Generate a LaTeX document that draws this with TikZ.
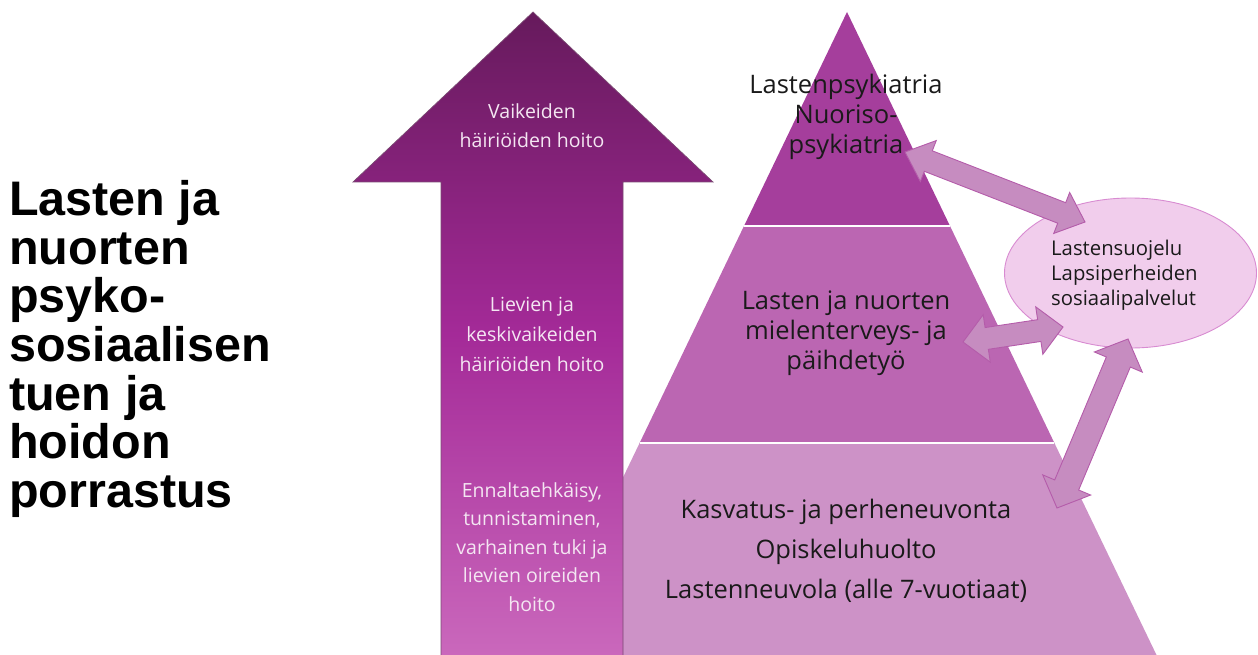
\documentclass[tikz,border=0pt]{standalone}
\usepackage{fontspec}
\setmainfont{Open Sans}
\newfontfamily\titlefont{Liberation Sans}
\usetikzlibrary{calc}
\definecolor{arrtop}{HTML}{661A5C}
\definecolor{arrmid}{HTML}{A42A98}
\definecolor{arrbot}{HTML}{CA68BC}
\definecolor{arrline}{HTML}{7B4A73}
\definecolor{tiertop}{HTML}{A53E9C}
\definecolor{tiermid}{HTML}{BB66B2}
\definecolor{tierbot}{HTML}{CD92C7}
\definecolor{lighttxt}{HTML}{F4E6F2}
\definecolor{ellfill}{HTML}{F1CDEC}
\definecolor{ellline}{HTML}{D88BD1}
\definecolor{dblfill}{HTML}{C68CC0}
\definecolor{dblline}{HTML}{B45CAA}
\definecolor{darktxt}{HTML}{1A1A1A}
\tikzset{
  arrtxt/.style={text=lighttxt, align=center, inner sep=0pt, font=\fontsize{19.5}{29}\selectfont},
  pyrtxt/.style={text=darktxt, align=center, inner sep=0pt, font=\fontsize{25.5}{30}\selectfont},
  dblarr/.style={draw=dblline, fill=dblfill, line width=0.9pt, line join=miter},
}
% #1 name, #2 end A, #3 end B, #4 head length, #5 head half width, #6 shaft half width
\newcommand{\mydblarrow}[6]{%
  \coordinate (#1p) at ($(#2)!#4!(#3)$);
  \coordinate (#1q) at ($(#3)!#4!(#2)$);
  \draw[dblarr] (#2) -- ($(#1p)!#5!90:(#3)$) -- ($(#1p)!#6!90:(#3)$)
    -- ($(#1q)!#6!-90:(#2)$) -- ($(#1q)!#5!-90:(#2)$) -- (#3)
    -- ($(#1q)!#5!90:(#2)$) -- ($(#1q)!#6!90:(#2)$)
    -- ($(#1p)!#6!-90:(#3)$) -- ($(#1p)!#5!-90:(#3)$) -- cycle;
}
\begin{document}
\begin{tikzpicture}[x=1pt,y=-1pt]
\useasboundingbox (0,0) rectangle (1258,655);
% pyramid tiers
\fill[tiertop] (847,12) -- (950,226) -- (744,226) -- cycle;
\fill[tiermid] (744,226) -- (950,226) -- (1054.4,443) -- (639.6,443) -- cycle;
\fill[tierbot] (639.6,443) -- (1054.4,443) -- (1156.5,655) -- (537.5,655) -- cycle;
\draw[white, line width=1.6pt] (744,226) -- (950,226);
\draw[white, line width=1.6pt] (639.6,443) -- (1054.4,443);
% big arrow
\shade[top color=arrtop, bottom color=arrbot, middle color=arrmid, draw=arrline, line width=0.7pt]
  (533,12) -- (713,182) -- (623,182) -- (623,656) -- (441,656) -- (441,182) -- (353,182) -- cycle;
% arrow texts
\node[arrtxt] (a1) at (532,126) {Vaikeiden\\häiriöiden hoito};
\node[arrtxt, font=\fontsize{19.5}{30}\selectfont] (a2) at (532,334) {Lievien ja\\keskivaikeiden\\häiriöiden hoito};
\node[arrtxt, font=\fontsize{19.5}{28.5}\selectfont] (a3) at (532,547) {Ennaltaehkäisy,\\tunnistaminen,\\varhainen tuki ja\\lievien oireiden\\hoito};
% pyramid texts
\node[pyrtxt] (p1) at (846,117) {Lastenpsykiatria\\Nuoriso-\\psykiatria};
\node[pyrtxt] (p2) at (846,333) {Lasten ja nuorten\\mielenterveys- ja\\päihdetyö};
\node[pyrtxt, font=\fontsize{25.5}{40}\selectfont] (p3) at (846,551) {Kasvatus- ja perheneuvonta\\Opiskeluhuolto\\Lastenneuvola (alle 7-vuotiaat)};
% ellipse
\draw[fill=ellfill, draw=ellline, line width=0.9pt] (1130.5,273) ellipse [x radius=126, y radius=75];
\node[text=darktxt, align=left, inner sep=0pt, anchor=west, font=\fontsize{20.3}{25}\selectfont] (el) at (1051,275)
  {Lastensuojelu\\Lapsiperheiden\\sosiaalipalvelut};
% double arrows
\coordinate (d1a) at (905,152);
\coordinate (d1b) at (1085,222);
\coordinate (d2a) at (963,342);
\coordinate (d2b) at (1063,327);
\coordinate (d3a) at (1128,339);
\coordinate (d3b) at (1057,508);
\mydblarrow{d1}{d1a}{d1b}{25pt}{22pt}{11pt}
\mydblarrow{d2}{d2a}{d2b}{24pt}{24pt}{11pt}
\mydblarrow{d3}{d3a}{d3b}{25pt}{26pt}{13pt}
% title
\node[anchor=west, align=left, inner sep=0pt, font=\titlefont\bfseries\fontsize{48.5}{48.7}\selectfont] (title) at (9,349)
  {Lasten ja\\nuorten\\psyko-\\sosiaalisen\\tuen ja\\hoidon\\porrastus};
\end{tikzpicture}
\end{document}
